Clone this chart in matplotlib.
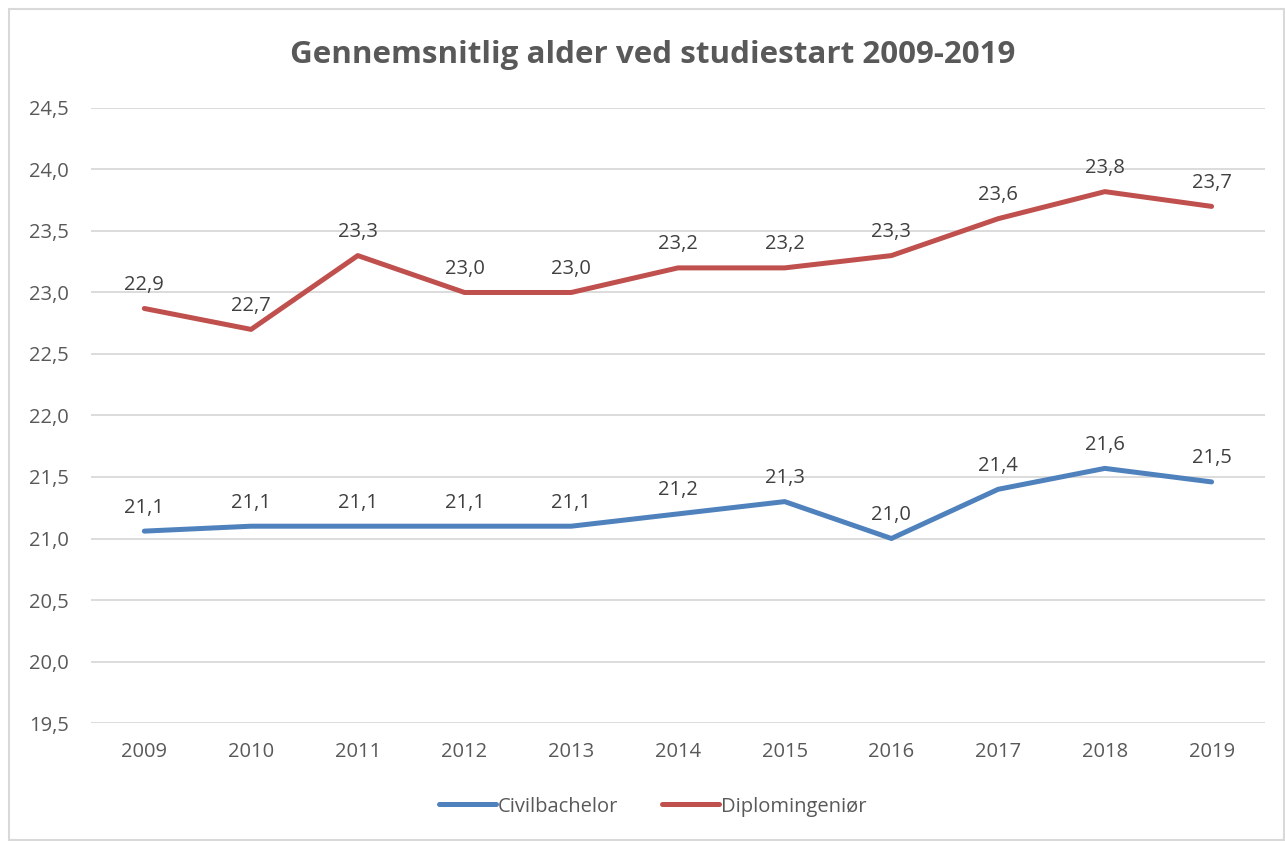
import matplotlib
matplotlib.use("Agg")
import matplotlib.pyplot as plt
from matplotlib.patches import Rectangle

# data
years = ["2009", "2010", "2011", "2012", "2013", "2014", "2015", "2016", "2017", "2018", "2019"]
civilbachelor = [21.06, 21.1, 21.1, 21.1, 21.1, 21.2, 21.3, 21.0, 21.4, 21.57, 21.46]
diplomingenior = [22.87, 22.7, 23.3, 23.0, 23.0, 23.2, 23.2, 23.3, 23.6, 23.82, 23.7]
series_names = ["Civilbachelor", "Diplomingeniør"]
yticks = [19.5, 20.0, 20.5, 21.0, 21.5, 22.0, 22.5, 23.0, 23.5, 24.0, 24.5]

plt.rcParams["font.family"] = ["Open Sans", "DejaVu Sans"]
text_col = "#595959"
colors = ["#4F81BD", "#C0504D"]

fig = plt.figure(figsize=(12.85, 8.41), dpi=100)
ax = fig.add_axes([0.0708, 0.1403, 0.9136, 0.7313])

# light frame around the whole chart like the office export
fig.patches.append(Rectangle((9 / 1285, 1 / 841), 1 - 10 / 1285, 1 - 10 / 841,
                             transform=fig.transFigure, fill=False,
                             edgecolor="#D9D9D9", linewidth=1.5))

x = list(range(len(years)))
for vals, name, col in zip([civilbachelor, diplomingenior], series_names, colors):
    ax.plot(x, vals, color=col, linewidth=3.6, solid_capstyle="round",
            solid_joinstyle="round", label=name, zorder=3)
    for xi, v in zip(x, vals):
        ax.annotate(f"{v:.1f}".replace(".", ","), (xi, v), xytext=(0, 17),
                    textcoords="offset points", ha="center", va="center",
                    fontsize=14.5, color="#404040")

ax.set_xlim(-0.5, len(years) - 0.5)
ax.set_ylim(19.5, 24.5)
ax.set_xticks(x)
ax.set_xticklabels(years)
ax.set_yticks(yticks)
ax.set_yticklabels([f"{t:.1f}".replace(".", ",") for t in yticks])
ax.tick_params(axis="both", length=0, labelsize=14.5, colors=text_col)
ax.tick_params(axis="x", pad=14)
ax.tick_params(axis="y", pad=16)
ax.grid(axis="y", color="#D9D9D9", linewidth=1.3)
ax.set_axisbelow(True)
for s in ax.spines.values():
    s.set_visible(False)

fig.suptitle("Gennemsnitlig alder ved studiestart 2009-2019", x=0.508, y=0.953,
             fontsize=22.6, fontweight="bold", color=text_col)

fig.legend(loc="center", bbox_to_anchor=(0.508, 0.041), ncol=2, frameon=False,
           fontsize=14.5, labelcolor=text_col, handlelength=2.8, handletextpad=0.1,
           columnspacing=2.2)

fig.savefig("out.png", dpi=100)
